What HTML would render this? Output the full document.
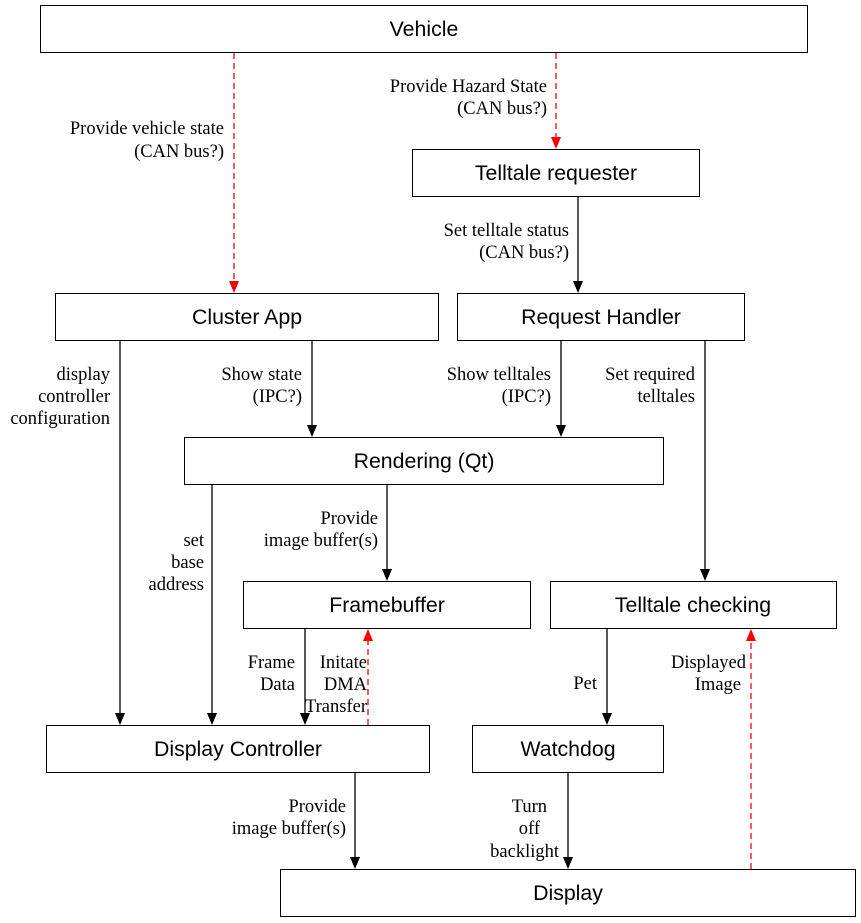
<!DOCTYPE html>
<html><head><meta charset="utf-8"><style>
body{margin:0;background:#fff}
svg{display:block}
.b{fill:#fff;stroke:#000;stroke-width:1}
.t{font-family:"Liberation Sans",sans-serif;font-size:21.3px;text-anchor:middle;dominant-baseline:central}
.l{font-family:"Liberation Serif",serif;font-size:18.5px;text-anchor:end}
.k{stroke:#000;stroke-width:1.3;fill:none}
.r{stroke:#f00;stroke-width:1.3;fill:none;stroke-dasharray:6,4}
</style></head><body>
<svg width="861" height="923" viewBox="0 0 861 923">
<rect class="b" x="40.5" y="5.5" width="767" height="47"/><text class="t" x="424" y="29">Vehicle</text>
<rect class="b" x="412.5" y="149.5" width="287" height="47"/><text class="t" x="556" y="173">Telltale requester</text>
<rect class="b" x="55.5" y="293.5" width="383" height="47"/><text class="t" x="247" y="317">Cluster App</text>
<rect class="b" x="457.5" y="293.5" width="287" height="47"/><text class="t" x="601" y="317">Request Handler</text>
<rect class="b" x="184.5" y="437.5" width="479" height="47"/><text class="t" x="424" y="461">Rendering (Qt)</text>
<rect class="b" x="243.5" y="581.5" width="287" height="47"/><text class="t" x="387" y="605">Framebuffer</text>
<rect class="b" x="550.5" y="581.5" width="286" height="47"/><text class="t" x="693" y="605">Telltale checking</text>
<rect class="b" x="46.5" y="725.5" width="383" height="47"/><text class="t" x="238" y="749">Display Controller</text>
<rect class="b" x="472.5" y="725.5" width="191" height="47"/><text class="t" x="568" y="749">Watchdog</text>
<rect class="b" x="280.5" y="869.5" width="575" height="47"/><text class="t" x="568" y="893">Display</text>

<g class="k">
<line x1="578" y1="197" x2="578" y2="282"/>
<line x1="120" y1="341" x2="120" y2="714"/>
<line x1="312" y1="341" x2="312" y2="426"/>
<line x1="561" y1="341" x2="561" y2="426"/>
<line x1="705" y1="341" x2="705" y2="570"/>
<line x1="212" y1="485" x2="212" y2="714"/>
<line x1="387" y1="485" x2="387" y2="570"/>
<line x1="305" y1="629" x2="305" y2="714"/>
<line x1="607" y1="629" x2="607" y2="714"/>
<line x1="355" y1="773" x2="355" y2="858"/>
<line x1="568" y1="773" x2="568" y2="858"/>
</g>
<g fill="#000">
<path d="M573,281 L583,281 L578,293z"/>
<path d="M115,713 L125,713 L120,725z"/>
<path d="M307,425 L317,425 L312,437z"/>
<path d="M556,425 L566,425 L561,437z"/>
<path d="M700,569 L710,569 L705,581z"/>
<path d="M207,713 L217,713 L212,725z"/>
<path d="M382,569 L392,569 L387,581z"/>
<path d="M300,713 L310,713 L305,725z"/>
<path d="M602,713 L612,713 L607,725z"/>
<path d="M350,857 L360,857 L355,869z"/>
<path d="M563,857 L573,857 L568,869z"/>
</g>
<g class="r">
<line x1="234" y1="53" x2="234" y2="282"/>
<line x1="556" y1="53" x2="556" y2="138"/>
<line x1="368" y1="725" x2="368" y2="640"/>
<line x1="751" y1="869" x2="751" y2="640"/>
</g>
<g fill="#f00">
<path d="M229,281 L239,281 L234,293z"/>
<path d="M551,137 L561,137 L556,149z"/>
<path d="M363,641 L373,641 L368,629z"/>
<path d="M746,641 L756,641 L751,629z"/>
</g>

<g class="l">
<text x="224" y="134">Provide vehicle state</text><text x="224" y="157">(CAN bus?)</text>
<text x="547" y="92">Provide Hazard State</text><text x="547" y="114">(CAN bus?)</text>
<text x="569" y="236">Set telltale status</text><text x="569" y="258">(CAN bus?)</text>
<text x="110" y="380">display</text><text x="110" y="402">controller</text><text x="110" y="424">configuration</text>
<text x="302" y="380">Show state</text><text x="302" y="402">(IPC?)</text>
<text x="551" y="380">Show telltales</text><text x="551" y="402">(IPC?)</text>
<text x="695" y="380">Set required</text><text x="695" y="402">telltales</text>
<text x="204" y="546">set</text><text x="204" y="568">base</text><text x="204" y="590">address</text>
<text x="378" y="524">Provide</text><text x="378" y="546">image buffer(s)</text>
<text x="295" y="668">Frame</text><text x="295" y="690">Data</text>
<text x="367" y="668">Initate</text><text x="367" y="690">DMA</text><text x="367" y="712">Transfer</text>
<text x="597" y="689">Pet</text>
<text x="746" y="668">Displayed</text><text x="741" y="690">Image</text>
<text x="346" y="812">Provide</text><text x="346" y="834">image buffer(s)</text>
<text x="547" y="812">Turn</text><text x="540" y="834">off</text><text x="559" y="857">backlight</text>
</g>
</svg>
</body></html>
